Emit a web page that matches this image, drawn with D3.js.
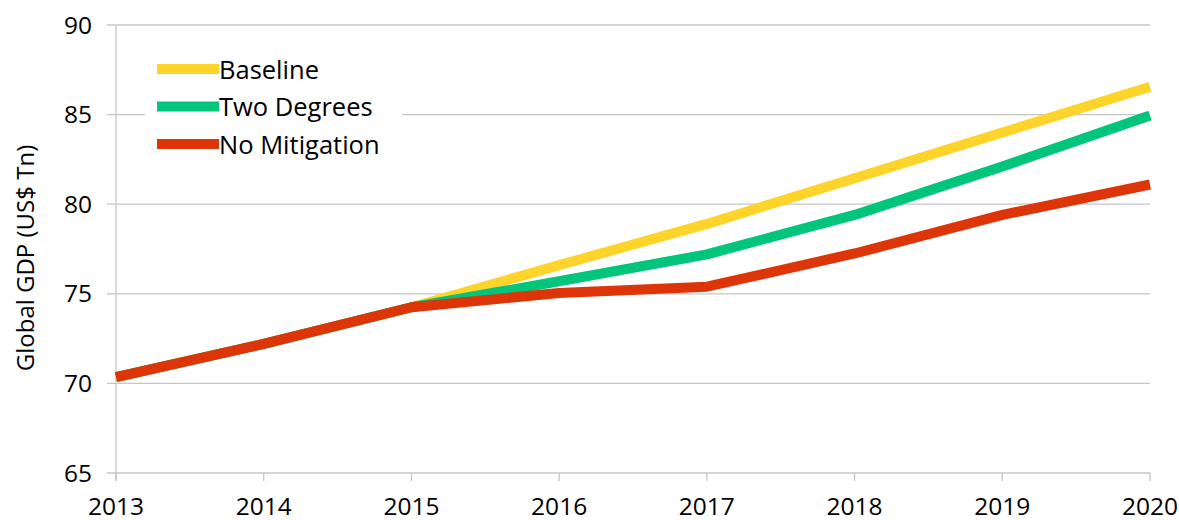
<!DOCTYPE html>
<html>
<head>
<meta charset="utf-8">
<script src="https://cdn.jsdelivr.net/npm/d3@7"></script>
<style>
  body { margin: 0; background: #fff; }
  svg { display: block; font-family: "Open Sans", sans-serif; }
</style>
</head>
<body>
<svg id="chart" width="1179" height="520"></svg>
<script>
// --- Data ---
const years = [2013, 2014, 2015, 2016, 2017, 2018, 2019, 2020];
const baseline = [70.35, 72.2, 74.25, 76.6, 78.9, 81.45, 84.0, 86.55];
const twoDegrees = [70.35, 72.2, 74.25, 75.7, 77.2, 79.4, 82.1, 84.95];
const noMitigation = [70.35, 72.2, 74.25, 75.05, 75.4, 77.25, 79.4, 81.1];
const yTicks = [65, 70, 75, 80, 85, 90];

const series = [
  { name: 'Baseline', values: baseline, color: '#ffd42a' },
  { name: 'Two Degrees', values: twoDegrees, color: '#00c57b' },
  { name: 'No Mitigation', values: noMitigation, color: '#de3508' },
];

const svg = d3.select('#chart');
const margin = { top: 25, right: 29, bottom: 47, left: 116 };
const width = 1179 - margin.left - margin.right;
const height = 520 - margin.top - margin.bottom;

const g = svg.append('g').attr('transform', `translate(${margin.left},${margin.top})`);

const x = d3.scaleLinear().domain([2013, 2020]).range([0, width]);
const y = d3.scaleLinear().domain([65, 90]).range([height, 0]);

// gridlines
g.selectAll('.grid')
  .data(yTicks)
  .enter()
  .append('line')
  .attr('x1', -9)
  .attr('x2', width)
  .attr('y1', (d) => y(d))
  .attr('y2', (d) => y(d))
  .attr('stroke', '#c6c6c6')
  .attr('stroke-width', 1.3);

// y axis line
g.append('line')
  .attr('x1', 0).attr('x2', 0)
  .attr('y1', 0).attr('y2', height + 8)
  .attr('stroke', '#c6c6c6')
  .attr('stroke-width', 1.3);

// x ticks
g.selectAll('.xtick')
  .data(years)
  .enter()
  .append('line')
  .attr('x1', (d) => x(d))
  .attr('x2', (d) => x(d))
  .attr('y1', height)
  .attr('y2', height + 8)
  .attr('stroke', '#c6c6c6')
  .attr('stroke-width', 1.3);

// y tick labels
g.selectAll('.ylab')
  .data(yTicks)
  .enter()
  .append('text')
  .attr('x', -24)
  .attr('y', (d) => y(d))
  .attr('dy', '0.35em')
  .attr('text-anchor', 'end')
  .attr('font-size', 24.5)
  .attr('fill', '#000')
  .text((d) => d);

// x tick labels
g.selectAll('.xlab')
  .data(years)
  .enter()
  .append('text')
  .attr('x', (d) => x(d))
  .attr('y', height + 42)
  .attr('text-anchor', 'middle')
  .attr('font-size', 24.5)
  .attr('fill', '#000')
  .text((d) => d);

// y axis title
svg.append('text')
  .attr('transform', 'translate(34,258) rotate(-90)')
  .attr('text-anchor', 'middle')
  .attr('font-size', 24)
  .attr('fill', '#000')
  .text('Global GDP (US$ Tn)');

// lines
const line = d3.line()
  .x((d, i) => x(years[i]))
  .y((d) => y(d));

g.selectAll('.series')
  .data(series)
  .enter()
  .append('path')
  .attr('d', (d) => line(d.values))
  .attr('fill', 'none')
  .attr('stroke', (d) => d.color)
  .attr('stroke-width', 10)
  .attr('stroke-linejoin', 'round');

// legend
const legend = svg.append('g').attr('transform', 'translate(145,50)');
legend.append('rect')
  .attr('width', 257)
  .attr('height', 115)
  .attr('fill', '#fff');

const item = legend.selectAll('.item')
  .data(series)
  .enter()
  .append('g')
  .attr('transform', (d, i) => `translate(0,${19 + i * 37.5})`);

item.append('line')
  .attr('x1', 12)
  .attr('x2', 74)
  .attr('stroke', (d) => d.color)
  .attr('stroke-width', 10);

item.append('text')
  .attr('x', 74)
  .attr('dy', '0.38em')
  .attr('font-size', 25.5)
  .attr('fill', '#000')
  .text((d) => d.name);
</script>
</body>
</html>
